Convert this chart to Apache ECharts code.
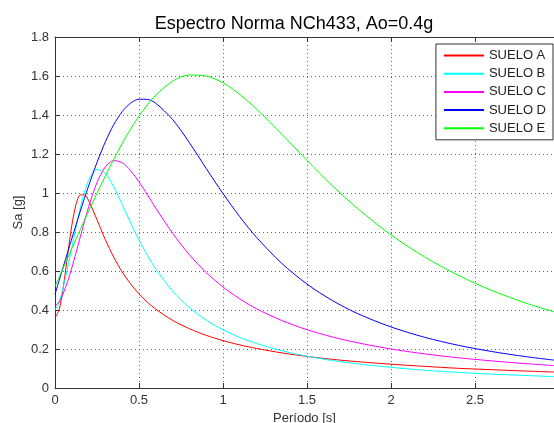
<!DOCTYPE html>
<html>
<head>
<meta charset="utf-8">
<script src="https://cdn.jsdelivr.net/npm/echarts@6/dist/echarts.min.js"></script>
<style>
  html, body { margin: 0; padding: 0; background: #fff; }
  #chart { width: 554px; height: 423px; }
</style>
</head>
<body>
<div id="chart"></div>
<script>
// Periods (s) shared by every soil curve
const periods = [0, 0.025, 0.05, 0.075, 0.1, 0.125, 0.15, 0.175, 0.2, 0.25, 0.3, 0.35, 0.4, 0.45, 0.5, 0.55, 0.6,
  0.7, 0.8, 0.9, 1.0, 1.1, 1.2, 1.35, 1.5, 1.65, 1.8, 2.0, 2.2, 2.4, 2.6, 2.8, 2.97];

// Spectral acceleration Sa [g] per soil type
const sueloA = [0.360, 0.403, 0.521, 0.680, 0.833, 0.941, 0.990, 0.991, 0.961, 0.863, 0.760, 0.670, 0.595, 0.534, 0.483, 0.440, 0.404,
  0.347, 0.304, 0.270, 0.243, 0.221, 0.203, 0.180, 0.162, 0.147, 0.135, 0.122, 0.111, 0.101, 0.094, 0.087, 0.082];
const sueloB = [0.400, 0.443, 0.520, 0.615, 0.720, 0.824, 0.921, 1.003, 1.064, 1.121, 1.100, 1.031, 0.941, 0.847, 0.759, 0.680, 0.610,
  0.497, 0.413, 0.348, 0.299, 0.259, 0.228, 0.191, 0.163, 0.141, 0.124, 0.106, 0.091, 0.080, 0.071, 0.064, 0.058];
const sueloC = [0.420, 0.442, 0.487, 0.546, 0.616, 0.693, 0.773, 0.852, 0.928, 1.054, 1.134, 1.166, 1.155, 1.115, 1.057, 0.991, 0.922,
  0.794, 0.683, 0.592, 0.518, 0.457, 0.406, 0.346, 0.299, 0.262, 0.232, 0.200, 0.175, 0.155, 0.139, 0.125, 0.115];
const sueloD = [0.480, 0.552, 0.624, 0.695, 0.766, 0.836, 0.905, 0.972, 1.036, 1.157, 1.263, 1.351, 1.417, 1.461, 1.481, 1.480, 1.460,
  1.377, 1.258, 1.126, 0.997, 0.878, 0.772, 0.639, 0.533, 0.449, 0.382, 0.313, 0.260, 0.219, 0.187, 0.161, 0.143];
const sueloE = [0.520, 0.569, 0.618, 0.666, 0.715, 0.763, 0.811, 0.859, 0.906, 0.999, 1.088, 1.173, 1.254, 1.328, 1.394, 1.453, 1.502,
  1.573, 1.605, 1.600, 1.565, 1.505, 1.430, 1.301, 1.167, 1.038, 0.921, 0.785, 0.672, 0.578, 0.500, 0.436, 0.391];

const seriesNames = ['SUELO A', 'SUELO B', 'SUELO C', 'SUELO D', 'SUELO E'];
const seriesColors = ['#ff0000', '#00ffff', '#ff00ff', '#0000ff', '#00ff00'];
const seriesValues = [sueloA, sueloB, sueloC, sueloD, sueloE];

const xTicks = [0, 0.5, 1, 1.5, 2, 2.5];

const FONT = '"Liberation Sans", Arial, sans-serif';
const gridLine = { show: true, lineStyle: { color: '#666', type: [1, 3], width: 1 } };
const axisLine = { show: true, lineStyle: { color: '#333', width: 1 } };
const tick = { show: true, inside: true, length: 5, lineStyle: { color: '#333' } };

const chart = echarts.init(document.getElementById('chart'), null, { renderer: 'canvas' });

chart.setOption({
  backgroundColor: '#fff',
  animation: false,
  title: {
    text: 'Espectro Norma NCh433, Ao=0.4g',
    left: 289, top: 10, textAlign: 'center',
    textStyle: { fontFamily: FONT, fontSize: 18, fontWeight: 'normal', color: '#000' }
  },
  grid: { left: 55, right: 0, top: 37, bottom: 35, containLabel: false, outerBoundsMode: 'none' },
  legend: {
    orient: 'vertical', right: 1, top: 44,
    itemWidth: 40, itemHeight: 12, itemGap: 5.2,
    padding: [5, 7, 5, 7],
    borderColor: '#333', borderWidth: 1, backgroundColor: '#fff',
    itemStyle: { opacity: 0 },
    textStyle: { fontFamily: FONT, fontSize: 13, color: '#222' },
    data: seriesNames
  },
  xAxis: [{
    type: 'value', min: 0, max: 2.97, interval: 0.5,
    name: 'Período [s]', nameLocation: 'middle', nameGap: 24, nameMoveOverlap: false,
    nameTextStyle: { fontFamily: FONT, fontSize: 13, color: '#333' },
    axisLine: axisLine,
    axisTick: tick,
    axisLabel: { fontFamily: FONT, fontSize: 13, color: '#333', margin: 6, showMaxLabel: false,
      formatter: v => (xTicks.indexOf(v) >= 0 ? String(v) : '') },
    splitLine: gridLine
  }, {
    type: 'value', position: 'top', min: 0, max: 2.97, interval: 0.5,
    axisLine: axisLine,
    axisTick: tick,
    axisLabel: { show: false },
    splitLine: { show: false }
  }],
  yAxis: {
    type: 'value', min: 0, max: 1.8, interval: 0.2,
    name: 'Sa [g]', nameLocation: 'middle', nameGap: 30, nameMoveOverlap: false,
    nameTextStyle: { fontFamily: FONT, fontSize: 13, color: '#333' },
    axisLine: axisLine,
    axisTick: tick,
    axisLabel: { fontFamily: FONT, fontSize: 13, color: '#333', margin: 6,
      formatter: v => String(Math.round(v * 10) / 10) },
    splitLine: gridLine
  },
  series: seriesNames.map((name, i) => ({
    name: name,
    type: 'line',
    xAxisIndex: 0,
    symbol: 'none',
    smooth: 0.3,
    color: seriesColors[i],
    lineStyle: { color: seriesColors[i], width: 1 },
    data: periods.map((t, k) => [t, seriesValues[i][k]])
  }))
});
</script>
</body>
</html>
